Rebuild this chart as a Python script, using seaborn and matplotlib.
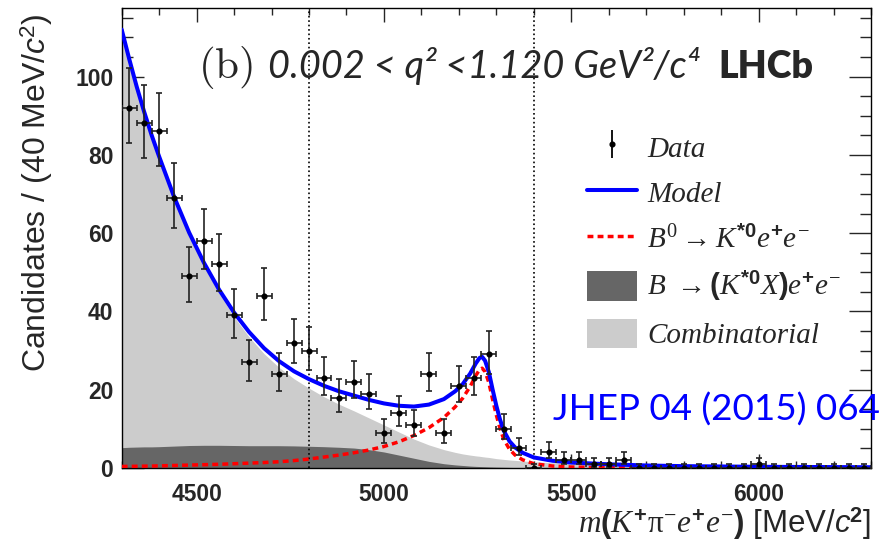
import numpy as np
import pandas as pd
import seaborn as sns
import matplotlib.pyplot as plt
from matplotlib.lines import Line2D
from matplotlib.patches import Patch
from matplotlib.legend_handler import HandlerTuple
from matplotlib.ticker import MultipleLocator

# Data: candidates per 40 MeV bin, 4300 - 6300 MeV
bin_width = 40
bin_centres = np.arange(4320, 6300, bin_width)
counts = [92, 88, 86, 69, 49, 58, 52, 39, 27, 44,
          24, 32, 30, 23, 18, 22, 19, 9, 14, 11,
          24, 9, 21, 23, 29, 10, 5, 0, 4, 2,
          2, 1, 1, 2, 0, 0, 0, 0, 0, 0,
          0, 0, 1, 0, 0, 0, 0, 0, 0, 0]

# Fit components
mass_grid = [4300, 4320, 4340, 4360, 4380, 4400, 4440, 4480, 4520, 4560,
             4600, 4640, 4680, 4720, 4760, 4800, 4840, 4880, 4920, 4960,
             5000, 5040, 5080, 5120, 5160, 5190, 5210, 5230, 5245, 5255,
             5262, 5270, 5280, 5290, 5300, 5310, 5320, 5335, 5350, 5370,
             5400, 5450, 5500, 5600, 5700, 5800, 6000, 6300]
signal = [0.4, 0.42, 0.45, 0.48, 0.5, 0.55, 0.65, 0.75, 0.85, 0.95,
          1.1, 1.25, 1.4, 1.6, 1.9, 2.3, 2.8, 3.3, 3.9, 4.6,
          5.5, 6.7, 8.3, 10.3, 12.9, 15.6, 17.8, 20.8, 23.6, 25.1,
          25.5, 24.6, 21.8, 17.5, 13.5, 10.0, 7.3, 4.8, 3.3, 2.1,
          1.1, 0.5, 0.25, 0.1, 0.05, 0.03, 0.01, 0.0]
part_reco = [5.2, 5.3, 5.35, 5.4, 5.4, 5.45, 5.6, 5.75, 5.8, 5.8,
             5.75, 5.7, 5.7, 5.7, 5.65, 5.55, 5.45, 5.3, 5.1, 4.7,
             4.1, 3.3, 2.5, 1.7, 1.1, 0.8, 0.65, 0.5, 0.42, 0.38,
             0.35, 0.32, 0.28, 0.25, 0.22, 0.2, 0.18, 0.15, 0.12, 0.09,
             0.06, 0.03, 0.01, 0.0, 0.0, 0.0, 0.0, 0.0]
combinatorial = [106.4, 98.8, 91.65, 85.1, 79.1, 73.55, 63.0, 53.65, 45.7, 38.8,
                 32.85, 27.8, 23.5, 20.0, 17.15, 14.85, 12.75, 11.0, 9.5, 8.1,
                 6.9, 5.9, 4.9, 4.2, 3.6, 3.2, 2.95, 2.8, 2.68, 2.62,
                 2.55, 2.48, 2.42, 2.3, 2.18, 2.1, 2.02, 1.9, 1.83, 1.71,
                 1.54, 1.32, 1.14, 0.85, 0.6, 0.45, 0.3, 0.2]

window_edges = [4800, 5400]
x_ticks = [4500, 5000, 5500, 6000]
y_ticks = [0, 20, 40, 60, 80, 100]

df = pd.DataFrame({"mass": bin_centres, "counts": counts})
fit = pd.DataFrame({"mass": mass_grid, "signal": signal,
                    "part_reco": part_reco, "comb": combinatorial})
fit["stack"] = fit["part_reco"] + fit["comb"]
fit["model"] = fit["stack"] + fit["signal"]

# Poisson-style asymmetric errors
root = np.sqrt(df["counts"] + 0.25)
err_lo = root - 0.5
err_hi = root + 0.5

sns.set_style("ticks")
plt.rcParams["font.family"] = ["Liberation Sans", "DejaVu Sans"]
plt.rcParams["mathtext.fontset"] = "custom"
plt.rcParams["mathtext.rm"] = "Liberation Serif"
plt.rcParams["mathtext.it"] = "Liberation Serif:italic"
plt.rcParams["mathtext.bf"] = "Liberation Sans:bold"
plt.rcParams["mathtext.sf"] = "Liberation Sans:italic"

fig = plt.figure(figsize = (8.94, 5.4), dpi = 100)
ax = fig.add_axes([0.1361, 0.1333, 0.8382, 0.8519])

# Stacked backgrounds
ax.fill_between(fit["mass"], 0, fit["stack"], color = "#cccccc", lw = 0, zorder = 1)
ax.fill_between(fit["mass"], 0, fit["part_reco"], color = "#666666", lw = 0, zorder = 1.1)

for edge in window_edges:
    ax.axvline(edge, color = "black", ls = ":", lw = 1.2, zorder = 2)

sns.lineplot(data = fit, x = "mass", y = "signal", color = "#ff0000", lw = 2.5,
             linestyle = (0, (1.7, 1.2)), ax = ax, zorder = 3)
sns.lineplot(data = fit, x = "mass", y = "model", color = "#0000ff", lw = 2.9,
             ax = ax, zorder = 4)

ax.errorbar(df["mass"], df["counts"], xerr = bin_width / 2, yerr = [err_lo, err_hi],
            fmt = "o", ms = 3.4, color = "black", ecolor = "#222222", elinewidth = 1.2,
            capsize = 2.2, capthick = 1.2, zorder = 5)

ax.set_xlim(4300, 6300)
ax.set_ylim(0, 117.5)
ax.xaxis.set_minor_locator(MultipleLocator(100))
ax.yaxis.set_minor_locator(MultipleLocator(5))
ax.set_xticks(x_ticks)
ax.set_xticklabels([str(t) for t in x_ticks], fontweight = "bold", fontsize = 16.5)
ax.set_yticks(y_ticks)
ax.set_yticklabels([str(t) for t in y_ticks], fontweight = "bold", fontsize = 16.5)
ax.tick_params(axis = "x", which = "major", direction = "in", length = 10, width = 1,
               top = True, pad = 11)
ax.tick_params(axis = "x", which = "minor", direction = "in", length = 5, width = 1, top = True)
ax.tick_params(axis = "y", which = "major", direction = "in", length = 16, width = 1,
               right = True, pad = 6)
ax.tick_params(axis = "y", which = "minor", direction = "in", length = 8, width = 1, right = True)
for side in ax.spines.values():
    side.set_linewidth(1.0)
    side.set_color("black")

ax.set_xlabel(r"$m\mathbf{(}K^{\mathbf{+}}\mathrm{\pi}^{-}e^{\mathbf{+}}e^{-}\mathbf{)}$ [MeV/$\mathsf{c}^{\mathbf{2}}$]",
              fontsize = 22.5, loc = "right")
ax.xaxis.set_label_coords(1.0, -0.12)
ax.xaxis.label.set_verticalalignment("center")
ax.set_ylabel(r"Candidates / (40 MeV/$\mathsf{c}^{\mathregular{2}}$)", fontsize = 23, loc = "top")
ax.yaxis.set_label_coords(-0.114, 0.989)
ax.yaxis.label.set_verticalalignment("center")

# Header
ax.text(0.102, 0.848, r"$\mathrm{(b)}$", transform = ax.transAxes, fontsize = 31,
        math_fontfamily = "cm", va = "baseline", zorder = 6)
ax.text(0.1953, 0.848, "0.002 < q² <1.120 GeV²/c⁴", transform = ax.transAxes,
        fontsize = 27.3, family = ["Lato", "DejaVu Sans"], style = "italic",
        va = "baseline", zorder = 6)
ax.text(0.796, 0.848, "LHCb", transform = ax.transAxes, fontsize = 27,
        family = ["Lato", "DejaVu Sans"], fontweight = "heavy", va = "baseline", zorder = 6)
ax.text(0.576, 0.127, "JHEP 04 (2015) 064", transform = ax.transAxes, fontsize = 26.5,
        family = ["Lato", "DejaVu Sans"], color = "#0000ff", va = "center",
        clip_on = False, zorder = 6)

# Legend
data_handle = (Line2D([], [], marker = "|", ms = 20, mew = 1.3, color = "black", ls = "none"),
               Line2D([], [], marker = "o", ms = 3.4, color = "black", ls = "none"))
handles = [data_handle,
           Line2D([], [], color = "#0000ff", lw = 2.9),
           Line2D([], [], color = "#ff0000", lw = 2.5, linestyle = (0, (1.7, 1.2))),
           Patch(facecolor = "#666666", edgecolor = "none"),
           Patch(facecolor = "#cccccc", edgecolor = "none")]
labels = ["Data", "Model",
          r"$B^{\mathit{0}}\rightarrow K^{\mathbf{*0}}e^{\mathbf{+}}e^{-}$",
          r"$B\ \rightarrow\mathbf{(}K^{\mathbf{*0}}X\mathbf{)}e^{\mathbf{+}}e^{-}$",
          "Combinatorial"]
ax.legend(handles, labels, loc = "upper left", bbox_to_anchor = (0.621, 0.731),
          frameon = False, borderpad = 0, borderaxespad = 0, handlelength = 1.72,
          handleheight = 1.2, handletextpad = 0.34, labelspacing = 0.52,
          prop = {"family": "Liberation Serif", "style": "italic", "size": 21},
          handler_map = {tuple: HandlerTuple(ndivide = 1)})

fig.savefig("out.png", dpi = 100)
